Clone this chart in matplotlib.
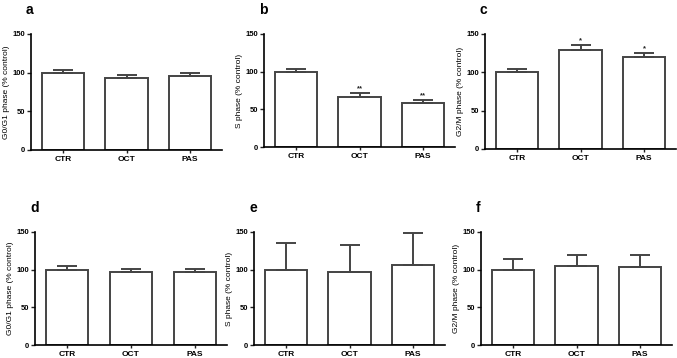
import matplotlib
matplotlib.use("Agg")
from matplotlib import pyplot as plt

groups = ["CTR", "OCT", "PAS"]

g0g1_a = [100, 93, 95.5]
g0g1_a_err = [3, 3.5, 4]
s_b = [100, 67, 58]
s_b_err = [3, 5, 4]
g2m_c = [100, 129, 120.5]
g2m_c_err = [4.5, 7, 5]
g0g1_d = [100, 96.5, 97]
g0g1_d_err = [5.5, 5, 4.5]
s_e = [100, 97, 106]
s_e_err = [35, 36, 43]
g2m_f = [100, 105, 104]
g2m_f_err = [13.5, 14.5, 16]

marks_b = ["", "**", "**"]
marks_c = ["", "*", "*"]

panels = [
	("a", g0g1_a, g0g1_a_err, "G0/G1 phase (% control)", None),
	("b", s_b, s_b_err, "S phase (% control)", marks_b),
	("c", g2m_c, g2m_c_err, "G2/M phase (% control)", marks_c),
	("d", g0g1_d, g0g1_d_err, "G0/G1 phase (% control)", None),
	("e", s_e, s_e_err, "S phase (% control)", None),
	("f", g2m_f, g2m_f_err, "G2/M phase (% control)", None),
]

# axes boxes in pixels: left, right, top, bottom
W, H = 677, 358
boxes = [
	(31, 222, 34, 150),
	(264, 455, 34, 147),
	(485, 676, 34, 149),
	(35, 227, 232, 345),
	(254, 445, 232, 345),
	(481, 672, 232, 345),
]

plt.rcParams['font.family'] = ['Liberation Sans', 'DejaVu Sans']
fig = plt.figure(figsize=(W / 100, H / 100), dpi=100)
edge = '#444444'

for (letter, vals, errs, ylabel, marks), (l, r, t, b) in zip(panels, boxes):
	ax = fig.add_axes([l / W, 1 - b / H, (r - l) / W, (b - t) / H])
	x = list(range(len(groups)))
	ax.bar(x, vals, width=0.67, color='white', edgecolor=edge, linewidth=1.4,
		   yerr=[[0] * len(vals), errs], capsize=7.5,
		   error_kw=dict(ecolor=edge, elinewidth=1.4, capthick=1.4))
	if marks:
		for xi, v, e, m in zip(x, vals, errs, marks):
			if m:
				ax.text(xi, v + e + 1, m, ha='center', va='bottom', fontsize=5.5,
						fontweight='bold', color='#222222')
	ax.set_xlim(-0.5, 2.5)
	ax.set_ylim(0, 150)
	ax.set_yticks([0, 50, 100, 150])
	ax.set_xticks(x)
	ax.set_xticklabels(groups)
	for lab in ax.get_xticklabels() + ax.get_yticklabels():
		lab.set_fontweight('bold')
	ax.tick_params(axis='y', labelsize=5.5, length=3, width=1, pad=1, color='#222222')
	ax.tick_params(axis='x', labelsize=6, length=2, width=1, pad=2, color='#222222')
	ax.spines['top'].set_visible(False)
	ax.spines['right'].set_visible(False)
	ax.spines['left'].set_linewidth(1.2)
	ax.spines['bottom'].set_linewidth(1.2)
	ax.set_ylabel(ylabel, fontsize=6, labelpad=2)
	fig.text((l - 5) / W, 1 - (t - 24) / H, letter, fontsize=10, fontweight='bold',
			 ha='left', va='center')

plt.savefig("out.png", dpi=100)
plt.close()
